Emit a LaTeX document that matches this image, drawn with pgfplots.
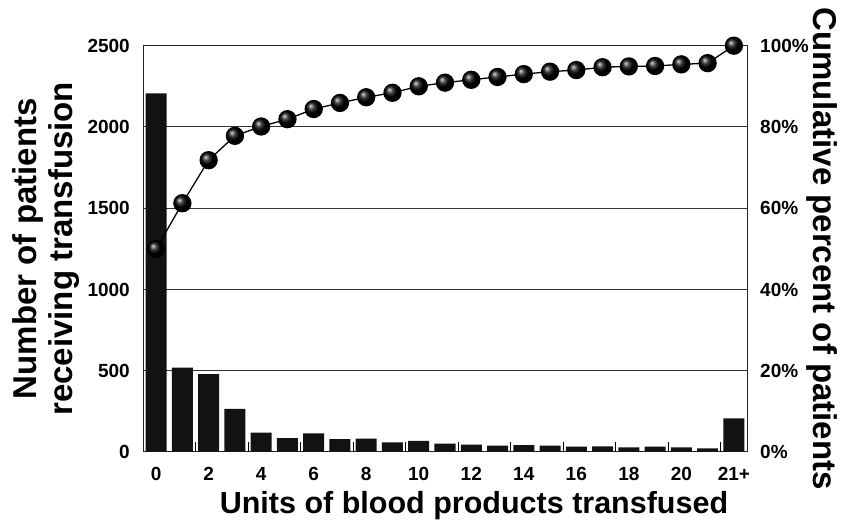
\documentclass[border=0pt]{standalone}
\usepackage{fontspec}
\setmainfont{Liberation Sans}
\usepackage{pgfplots}
\pgfplotsset{compat=1.18}
\begin{document}
\begin{tikzpicture}
\begin{axis}[
  name=ax,
  scale only axis, width=604bp, height=406bp,
  xmin=-0.5, xmax=22.5, ymin=0, ymax=2500,
  ybar, bar width=0.8,
  axis line style={line width=0.9pt, black!85},
  ytick={0,500,...,2500},
  scaled y ticks=false,
  /pgf/number format/1000 sep={},
  /pgf/number format/assume math mode=true,
  ymajorgrids, grid style={line width=0.9pt, black!80},
  major tick length=0pt,
  xtick pos=bottom, ytick pos=left,
  xtick={0,2,...,20,22},
  xticklabels={0,2,4,6,8,10,12,14,16,18,20,21+},
  extra x ticks={1.5,3.5,...,21.5},
  extra x tick labels={},
  extra x tick style={major tick length=10bp, tick align=inside, grid=none, tick style={line width=0.8pt, black}},
  ticklabel style={font=\fontsize{19bp}{21bp}\selectfont\bfseries, inner sep=0pt, text height=13.6bp, text depth=0pt},
  yticklabel shift=13bp, xticklabel shift=15bp,
  xlabel={Units of blood products transfused},
  xlabel style={font=\fontsize{30.5bp}{33bp}\selectfont\bfseries, at={(axis description cs:0.548,-0.132)}, anchor=center, inner sep=0pt},
  ylabel={Number of patients\\receiving transfusion},
  ylabel style={font=\fontsize{33bp}{36bp}\selectfont\bfseries, align=center, at={(axis description cs:-0.16,0.5)}, anchor=center, inner sep=0pt},
]
\addplot[fill=black!93, draw=none] coordinates {
(0,2207) (1,517) (2,478) (3,263) (4,117) (5,84) (6,113) (7,78) (8,80) (9,58)
(10,66) (11,49) (12,43) (13,37) (14,41) (15,37) (16,31) (17,33) (18,27) (19,31)
(20,27) (21,21) (22,205)
};
\end{axis}
\begin{axis}[
  scale only axis, width=604bp, height=406bp,
  xmin=-0.5, xmax=22.5, ymin=0, ymax=100,
  axis y line*=right, axis x line=none,
  axis line style={line width=0.9pt, black!85},
  ytick={0,20,...,100},
  yticklabel={\pgfmathprintnumber{\tick}\%},
  /pgf/number format/assume math mode=true,
  major tick length=0pt,
  ticklabel style={font=\fontsize{19bp}{21bp}\selectfont\bfseries, inner sep=0pt, text height=13.6bp, text depth=0pt},
  yticklabel shift=13bp,
  ylabel={Cumulative percent of patients},
  ylabel style={font=\fontsize{33bp}{36bp}\selectfont\bfseries, at={(axis description cs:1.124,0.5)}, anchor=center, rotate=180, inner sep=0pt},
  clip=false,
]
\addplot[black, line width=1.3pt, mark=ball, mark size=8.5bp, mark options={ball color=black}] coordinates {
(0,49.9) (1,61.2) (2,71.8) (3,77.8) (4,80.1) (5,81.9) (6,84.4) (7,85.9) (8,87.3) (9,88.4)
(10,90.0) (11,90.9) (12,91.6) (13,92.3) (14,93.0) (15,93.6) (16,94.0) (17,94.7) (18,94.9) (19,95.0)
(20,95.4) (21,95.7) (22,100)
};
\end{axis}
\pgfresetboundingbox
\path[use as bounding box] ([xshift=-143bp,yshift=-71.3bp]ax.south west) rectangle ([xshift=94bp,yshift=45.7bp]ax.north east);
\end{tikzpicture}
\end{document}
